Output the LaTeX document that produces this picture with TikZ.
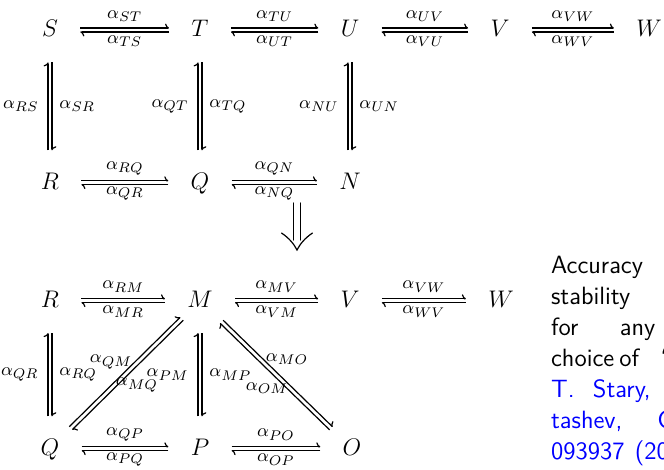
\documentclass[tikz,border=0pt]{standalone}
\usetikzlibrary{arrows.meta,calc}
\DeclareMathSizes{12.5}{12.5}{9.1}{6.8}
\definecolor{refblue}{RGB}{0,0,255}
\tikzset{
  obj/.style={inner sep=0pt, text height=8.5pt, text depth=1.5pt, font=\fontsize{12.5}{15}\selectfont},
  harp/.style={line width=0.6pt, -{Computer Modern Rightarrow[left,length=2pt,width=4.4pt]}, shorten <=11pt, shorten >=11pt},
  lab/.style={inner sep=0pt, font=\fontsize{12.5}{15}\selectfont},
  txt/.style={inner sep=0pt, anchor=base west, font=\sffamily\fontsize{12.5}{15}\selectfont},
  reftxt/.style={txt, text=refblue},
  implies/.style={line width=0.6pt, line cap=round},
}
\newcommand\hpair[4]{%
  \draw[harp, transform canvas={yshift=1pt}] (#1) -- (#2);
  \draw[harp, transform canvas={yshift=-1pt}] (#2) -- (#1);
  \path (#1) -- (#2) node[lab, pos=0.5, yshift=7pt] {$\scriptstyle #3$}
                     node[lab, pos=0.5, yshift=-5.5pt] {$\scriptstyle #4$};
}
\newcommand\vpair[4]{%
  \draw[harp, transform canvas={xshift=1pt}] (#1) -- (#2);
  \draw[harp, transform canvas={xshift=-1pt}] (#2) -- (#1);
  \path (#1) -- (#2) node[lab, pos=0.5, anchor=west, xshift=4.5pt] {$\scriptstyle #3$}
                     node[lab, pos=0.5, anchor=east, xshift=-5.5pt] {$\scriptstyle #4$};
}
\begin{document}
\begin{tikzpicture}[x=0.5pt, y=-0.5pt]
\useasboundingbox (0,0) rectangle (664,470);
\fill[white] (0,0) rectangle (664,470);
\clip (0,0) rectangle (664,470);

% top diagram
\node[obj] (S)  at (50,30)    {$S$};
\node[obj] (T)  at (200,30)   {$T$};
\node[obj] (U)  at (350,30)   {$U$};
\node[obj] (V1) at (500,30)   {$V$};
\node[obj] (W1) at (649,30)   {$W$};
\node[obj] (R1) at (50,182.7)  {$R$};
\node[obj] (Q1) at (200,182.7) {$Q$};
\node[obj] (N)  at (350,182.7) {$N$};

\hpair{S}{T}{\alpha_{ST}}{\alpha_{TS}}
\hpair{T}{U}{\alpha_{TU}}{\alpha_{UT}}
\hpair{U}{V1}{\alpha_{UV}}{\alpha_{VU}}
\hpair{V1}{W1}{\alpha_{VW}}{\alpha_{WV}}
\hpair{R1}{Q1}{\alpha_{RQ}}{\alpha_{QR}}
\hpair{Q1}{N}{\alpha_{QN}}{\alpha_{NQ}}
\vpair{S}{R1}{\alpha_{SR}}{\alpha_{RS}}
\vpair{T}{Q1}{\alpha_{TQ}}{\alpha_{QT}}
\vpair{U}{N}{\alpha_{UN}}{\alpha_{NU}}

% big implication arrow
\coordinate (dtop) at (297,203);
\coordinate (dbot) at (297,250);
\draw[implies] ([xshift=-1.75pt]dtop) -- ([xshift=-1.75pt,yshift=5pt]dbot);
\draw[implies] ([xshift=1.75pt]dtop) -- ([xshift=1.75pt,yshift=5pt]dbot);
\draw[implies] (281.5,233) .. controls (289,238) and (294,244) .. (dbot)
               .. controls (300,244) and (305,238) .. (312.5,233);

% bottom diagram
\node[obj] (R2) at (50,300.7)  {$R$};
\node[obj] (M)  at (200,300.7) {$M$};
\node[obj] (V2) at (350,300.7) {$V$};
\node[obj] (W2) at (501,300.7) {$W$};
\node[obj] (Q2) at (50,448.7)  {$Q$};
\node[obj] (P)  at (200,448.7) {$P$};
\node[obj] (O)  at (352,448.7) {$O$};

\hpair{R2}{M}{\alpha_{RM}}{\alpha_{MR}}
\hpair{M}{V2}{\alpha_{MV}}{\alpha_{VM}}
\hpair{V2}{W2}{\alpha_{VW}}{\alpha_{WV}}
\hpair{Q2}{P}{\alpha_{QP}}{\alpha_{PQ}}
\hpair{P}{O}{\alpha_{PO}}{\alpha_{OP}}
\vpair{R2}{Q2}{\alpha_{RQ}}{\alpha_{QR}}
\vpair{M}{P}{\alpha_{MP}}{\alpha_{PM}}

% diagonals
\draw[harp, shorten <=7.8pt, shorten >=5.4pt, transform canvas={xshift=-0.75pt, yshift=0.75pt}] (Q2) -- (M);
\draw[harp, shorten <=5.4pt, shorten >=7.8pt, transform canvas={xshift=0.75pt, yshift=-0.75pt}] (M) -- (Q2);
\draw[harp, shorten <=7.6pt, shorten >=7.8pt, transform canvas={xshift=0.75pt, yshift=0.75pt}] (M) -- (O);
\draw[harp, shorten <=7.8pt, shorten >=7.6pt, transform canvas={xshift=-0.75pt, yshift=-0.75pt}] (O) -- (M);
\node[lab] (lQM) at (111,362) {$\scriptstyle\alpha_{QM}$};
\node[lab] (lMQ) at (137,385) {$\scriptstyle\alpha_{MQ}$};
\node[lab] (lMO) at (287,359) {$\scriptstyle\alpha_{MO}$};
\node[lab] (lOM) at (267,388) {$\scriptstyle\alpha_{OM}$};

% text column
\node[txt] (t1)  at (550.7,273.5) {Accuracy};
\node[txt] (t2)  at (550.7,304.6) {stability};
\node[txt] (t3a) at (550.7,335.6) {for};
\node[txt] (t3b) at (619.5,335.6) {any};
\node[txt] (t4a) at (550.7,366.7) {choice};
\node[txt] (t4b) at (619,366.7) {of};
\node[txt] (t4c) at (660,366.7) {``};
\node[reftxt] (t5a) at (550.7,397.7) {T.};
\node[reftxt] (t5b) at (592.5,397.7) {Stary,};
\node[reftxt] (t6a) at (550.7,428.8) {tashev,};
\node[reftxt] (t6b) at (657,428.8) {C};
\node[reftxt] (t7a) at (550.7,459.8) {093937};
\node[reftxt] (t7b) at (634.5,459.8) {(20};
\end{tikzpicture}
\end{document}
